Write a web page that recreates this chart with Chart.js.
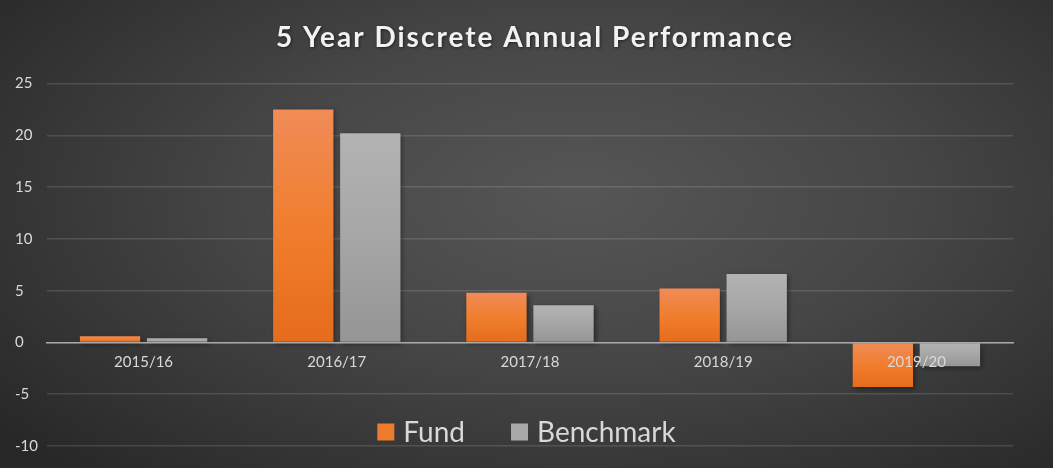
<!DOCTYPE html>
<html>
<head>
<meta charset="utf-8">
<script src="https://cdn.jsdelivr.net/npm/chart.js@4"></script>
<style>
  html, body { margin: 0; padding: 0; }
  body {
    width: 1053px;
    height: 468px;
    background: radial-gradient(ellipse 70% 80% at 55% 42%, #565656 0%, #464646 45%, #333333 80%, #282828 100%);
  }
  #wrap { position: relative; width: 1053px; height: 468px; }
</style>
</head>
<body>
<div id="wrap"><canvas id="perfChart"></canvas></div>
<script>
// Financial years
const years = ["2015/16", "2016/17", "2017/18", "2018/19", "2019/20"];

// Discrete annual returns (%)
const fundReturns = [0.6, 22.5, 4.8, 5.2, -4.3];
const benchmarkReturns = [0.4, 20.2, 3.6, 6.6, -2.3];

// Y axis range
const yMin = -10;
const yMax = 25;
const yStep = 5;

const FONT = "Lato, 'Open Sans', sans-serif";
const TEXT = "#d9d9d9";

// Vertical gradient for each bar, light on top, darker at the bottom
function barGradient(topColor, midColor, bottomColor) {
  return function (context) {
    const chart = context.chart;
    const y = chart.scales.y;
    if (context.type !== "data" || !y || !chart.chartArea) return midColor;
    const v = context.raw;
    const p1 = y.getPixelForValue(Math.max(v, 0));
    const p2 = y.getPixelForValue(Math.min(v, 0));
    if (!isFinite(p1) || !isFinite(p2) || p1 === p2) return midColor;
    const g = chart.ctx.createLinearGradient(0, p1, 0, p2);
    g.addColorStop(0, topColor);
    g.addColorStop(0.5, midColor);
    g.addColorStop(1, bottomColor);
    return g;
  };
}

// Soft shadow behind the bars
const barShadow = {
  id: "barShadow",
  beforeDatasetsDraw(chart) {
    const ctx = chart.ctx;
    ctx.save();
    ctx.shadowColor = "rgba(0,0,0,0.45)";
    ctx.shadowBlur = 5;
    ctx.shadowOffsetX = 2;
    ctx.shadowOffsetY = 2;
  },
  afterDatasetsDraw(chart) {
    chart.ctx.restore();
  },
};

// Wider letter spacing for the title, like the original
const titleSpacing = {
  id: "titleSpacing",
  afterInit(chart) {
    const tb = chart.titleBlock;
    if (!tb) return;
    const orig = tb.draw.bind(tb);
    tb.draw = function (area) {
      const c = chart.ctx;
      c.save();
      c.translate(21, 0); // spacing pulls the text left, push it back
      c.letterSpacing = "2px";
      c.shadowColor = "rgba(0,0,0,0.5)";
      c.shadowBlur = 3;
      c.shadowOffsetX = 1;
      c.shadowOffsetY = 1;
      orig(area);
      c.restore();
    };
  },
};

// Legend drawn inside the plot, near the bottom (like the Excel original)
const overlayLegend = {
  id: "overlayLegend",
  afterDraw(chart) {
    const ctx = chart.ctx;
    const sets = chart.data.datasets;
    const box = 17;
    const gapBoxText = 9;
    const gapItems = 46;
    ctx.save();
    ctx.font = "28px " + FONT;
    ctx.textBaseline = "middle";
    let total = 0;
    const widths = sets.map((ds) => ctx.measureText(ds.label).width);
    widths.forEach((w, i) => {
      total += box + gapBoxText + w + (i < widths.length - 1 ? gapItems : 0);
    });
    let x = chart.width / 2 - total / 2;
    const yMid = chart.chartArea.bottom - 14;
    sets.forEach((ds, i) => {
      ctx.fillStyle = ds.legendColor;
      ctx.fillRect(x, yMid - box / 2, box, box);
      x += box + gapBoxText;
      ctx.fillStyle = TEXT;
      ctx.fillText(ds.label, x, yMid + 1);
      x += widths[i] + gapItems;
    });
    ctx.restore();
  },
};

const ctx = document.getElementById("perfChart").getContext("2d");
const perfChart = new Chart(ctx, {
  type: "bar",
  data: {
    labels: years,
    datasets: [
      {
        label: "Fund",
        data: fundReturns,
        backgroundColor: barGradient("#f08c58", "#f07e2e", "#e56c1c"),
        legendColor: "#ee7a2c",
        categoryPercentage: 0.694,
        barPercentage: 0.9,
      },
      {
        label: "Benchmark",
        data: benchmarkReturns,
        backgroundColor: barGradient("#b3b3b3", "#a6a6a6", "#959595"),
        legendColor: "#a9a9a9",
        categoryPercentage: 0.694,
        barPercentage: 0.9,
      },
    ],
  },
  options: {
    responsive: true,
    maintainAspectRatio: false,
    animation: false,
    layout: {
      padding: { top: 0, left: 15, right: 40, bottom: 22 },
    },
    plugins: {
      legend: { display: false },
      tooltip: { enabled: false },
      title: {
        display: true,
        text: "5 Year Discrete Annual Performance",
        color: "#f2f2f2",
        font: { family: FONT, size: 28, weight: "bold" },
        padding: { top: 21, bottom: 29 },
      },
    },
    scales: {
      x: {
        position: { y: 0 },
        grid: { display: false },
        border: { color: "#a8a8a8", width: 1.5, z: 1 },
        ticks: {
          z: 1,
          color: TEXT,
          padding: 3,
          font: { family: FONT, size: 15 },
        },
      },
      y: {
        min: yMin,
        max: yMax,
        ticks: {
          stepSize: yStep,
          color: TEXT,
          crossAlign: "far",
          padding: 4.5,
          font: { family: FONT, size: 15 },
        },
        grid: {
          color: "rgba(255,255,255,0.13)",
          lineWidth: 1.5,
          drawTicks: false,
        },
        border: { display: false },
      },
    },
  },
  plugins: [barShadow, titleSpacing, overlayLegend],
});
</script>
</body>
</html>
